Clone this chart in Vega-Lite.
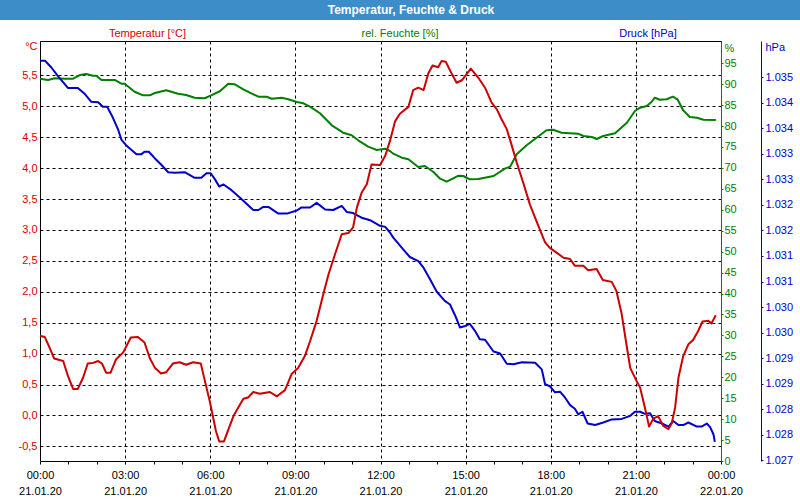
{
  "$schema": "https://vega.github.io/schema/vega-lite/v6.json",
  "background": "white",
  "padding": 0,
  "autosize": {"type": "pad"},
  "spacing": 6,
  "config": {
    "font": "Liberation Sans",
    "axis": {"labelFont": "Liberation Sans", "labelFontSize": 11, "titleFont": "Liberation Sans", "titleFontSize": 11, "titleFontWeight": "normal"}
  },
  "datasets": {
    "heading": [{"label": "Temperatur, Feuchte & Druck"}],
    "temp": [
      {"t": "2020-01-21T00:00", "v": 1.29}, {"t": "2020-01-21T00:10", "v": 1.27}, {"t": "2020-01-21T00:20", "v": 1.10},
      {"t": "2020-01-21T00:30", "v": 0.92}, {"t": "2020-01-21T00:49", "v": 0.88}, {"t": "2020-01-21T00:59", "v": 0.64},
      {"t": "2020-01-21T01:10", "v": 0.43}, {"t": "2020-01-21T01:20", "v": 0.43}, {"t": "2020-01-21T01:31", "v": 0.61},
      {"t": "2020-01-21T01:41", "v": 0.84}, {"t": "2020-01-21T01:52", "v": 0.85}, {"t": "2020-01-21T02:03", "v": 0.88},
      {"t": "2020-01-21T02:11", "v": 0.84}, {"t": "2020-01-21T02:20", "v": 0.69}, {"t": "2020-01-21T02:29", "v": 0.69},
      {"t": "2020-01-21T02:41", "v": 0.91}, {"t": "2020-01-21T02:56", "v": 1.02}, {"t": "2020-01-21T03:12", "v": 1.26},
      {"t": "2020-01-21T03:27", "v": 1.27}, {"t": "2020-01-21T03:41", "v": 1.18}, {"t": "2020-01-21T03:52", "v": 0.93},
      {"t": "2020-01-21T04:03", "v": 0.77}, {"t": "2020-01-21T04:16", "v": 0.68}, {"t": "2020-01-21T04:27", "v": 0.70},
      {"t": "2020-01-21T04:41", "v": 0.84}, {"t": "2020-01-21T04:55", "v": 0.86}, {"t": "2020-01-21T05:09", "v": 0.82},
      {"t": "2020-01-21T05:24", "v": 0.86}, {"t": "2020-01-21T05:40", "v": 0.84}, {"t": "2020-01-21T05:48", "v": 0.58},
      {"t": "2020-01-21T05:59", "v": 0.23}, {"t": "2020-01-21T06:12", "v": -0.25}, {"t": "2020-01-21T06:19", "v": -0.42},
      {"t": "2020-01-21T06:29", "v": -0.42}, {"t": "2020-01-21T06:49", "v": -0.01}, {"t": "2020-01-21T07:10", "v": 0.27},
      {"t": "2020-01-21T07:20", "v": 0.29}, {"t": "2020-01-21T07:31", "v": 0.38}, {"t": "2020-01-21T07:45", "v": 0.35},
      {"t": "2020-01-21T08:06", "v": 0.38}, {"t": "2020-01-21T08:21", "v": 0.31}, {"t": "2020-01-21T08:38", "v": 0.41},
      {"t": "2020-01-21T08:52", "v": 0.67}, {"t": "2020-01-21T09:06", "v": 0.77}, {"t": "2020-01-21T09:20", "v": 0.96},
      {"t": "2020-01-21T09:31", "v": 1.20}, {"t": "2020-01-21T09:45", "v": 1.53}, {"t": "2020-01-21T09:59", "v": 1.96},
      {"t": "2020-01-21T10:10", "v": 2.28}, {"t": "2020-01-21T10:24", "v": 2.61}, {"t": "2020-01-21T10:38", "v": 2.93},
      {"t": "2020-01-21T10:52", "v": 2.95}, {"t": "2020-01-21T11:02", "v": 3.04}, {"t": "2020-01-21T11:10", "v": 3.36},
      {"t": "2020-01-21T11:20", "v": 3.60}, {"t": "2020-01-21T11:31", "v": 3.74}, {"t": "2020-01-21T11:41", "v": 4.06},
      {"t": "2020-01-21T11:59", "v": 4.05}, {"t": "2020-01-21T12:10", "v": 4.20}, {"t": "2020-01-21T12:20", "v": 4.44},
      {"t": "2020-01-21T12:31", "v": 4.76}, {"t": "2020-01-21T12:41", "v": 4.88}, {"t": "2020-01-21T12:59", "v": 4.99},
      {"t": "2020-01-21T13:09", "v": 5.26}, {"t": "2020-01-21T13:20", "v": 5.30}, {"t": "2020-01-21T13:31", "v": 5.26},
      {"t": "2020-01-21T13:41", "v": 5.53}, {"t": "2020-01-21T13:50", "v": 5.66}, {"t": "2020-01-21T14:02", "v": 5.63},
      {"t": "2020-01-21T14:09", "v": 5.73}, {"t": "2020-01-21T14:18", "v": 5.72}, {"t": "2020-01-21T14:31", "v": 5.52},
      {"t": "2020-01-21T14:41", "v": 5.38}, {"t": "2020-01-21T14:52", "v": 5.42}, {"t": "2020-01-21T15:11", "v": 5.61},
      {"t": "2020-01-21T15:27", "v": 5.46}, {"t": "2020-01-21T15:41", "v": 5.30}, {"t": "2020-01-21T15:55", "v": 5.06},
      {"t": "2020-01-21T16:06", "v": 4.95}, {"t": "2020-01-21T16:16", "v": 4.79}, {"t": "2020-01-21T16:27", "v": 4.63},
      {"t": "2020-01-21T16:37", "v": 4.38}, {"t": "2020-01-21T16:48", "v": 4.09}, {"t": "2020-01-21T17:02", "v": 3.76},
      {"t": "2020-01-21T17:16", "v": 3.41}, {"t": "2020-01-21T17:30", "v": 3.14}, {"t": "2020-01-21T17:48", "v": 2.80},
      {"t": "2020-01-21T17:58", "v": 2.71}, {"t": "2020-01-21T18:13", "v": 2.63}, {"t": "2020-01-21T18:27", "v": 2.55},
      {"t": "2020-01-21T18:41", "v": 2.53}, {"t": "2020-01-21T18:51", "v": 2.42}, {"t": "2020-01-21T19:09", "v": 2.42},
      {"t": "2020-01-21T19:19", "v": 2.35}, {"t": "2020-01-21T19:37", "v": 2.37}, {"t": "2020-01-21T19:50", "v": 2.19},
      {"t": "2020-01-21T20:09", "v": 2.16}, {"t": "2020-01-21T20:19", "v": 2.01}, {"t": "2020-01-21T20:30", "v": 1.64},
      {"t": "2020-01-21T20:39", "v": 1.20}, {"t": "2020-01-21T20:48", "v": 0.77}, {"t": "2020-01-21T21:00", "v": 0.58},
      {"t": "2020-01-21T21:09", "v": 0.45}, {"t": "2020-01-21T21:19", "v": 0.13}, {"t": "2020-01-21T21:28", "v": -0.18},
      {"t": "2020-01-21T21:37", "v": -0.05}, {"t": "2020-01-21T21:47", "v": -0.01}, {"t": "2020-01-21T21:58", "v": -0.17},
      {"t": "2020-01-21T22:09", "v": -0.22}, {"t": "2020-01-21T22:16", "v": -0.12}, {"t": "2020-01-21T22:23", "v": 0.13},
      {"t": "2020-01-21T22:30", "v": 0.61}, {"t": "2020-01-21T22:40", "v": 0.96}, {"t": "2020-01-21T22:51", "v": 1.15},
      {"t": "2020-01-21T23:01", "v": 1.22}, {"t": "2020-01-21T23:12", "v": 1.37}, {"t": "2020-01-21T23:21", "v": 1.52},
      {"t": "2020-01-21T23:33", "v": 1.53}, {"t": "2020-01-21T23:40", "v": 1.49}, {"t": "2020-01-21T23:49", "v": 1.62}
    ],
    "hum": [
      {"t": "2020-01-21T00:00", "v": 91.30}, {"t": "2020-01-21T00:17", "v": 90.99}, {"t": "2020-01-21T00:31", "v": 91.39},
      {"t": "2020-01-21T00:52", "v": 91.30}, {"t": "2020-01-21T01:10", "v": 91.30}, {"t": "2020-01-21T01:24", "v": 92.18},
      {"t": "2020-01-21T01:38", "v": 92.42}, {"t": "2020-01-21T01:52", "v": 92.01}, {"t": "2020-01-21T01:59", "v": 92.01},
      {"t": "2020-01-21T02:10", "v": 90.99}, {"t": "2020-01-21T02:38", "v": 90.99}, {"t": "2020-01-21T02:52", "v": 90.10},
      {"t": "2020-01-21T02:59", "v": 90.10}, {"t": "2020-01-21T03:20", "v": 88.19}, {"t": "2020-01-21T03:38", "v": 87.33},
      {"t": "2020-01-21T03:52", "v": 87.33}, {"t": "2020-01-21T04:03", "v": 87.88}, {"t": "2020-01-21T04:27", "v": 88.53},
      {"t": "2020-01-21T04:52", "v": 87.72}, {"t": "2020-01-21T05:09", "v": 87.41}, {"t": "2020-01-21T05:27", "v": 86.76},
      {"t": "2020-01-21T05:48", "v": 86.62}, {"t": "2020-01-21T06:02", "v": 87.33}, {"t": "2020-01-21T06:21", "v": 88.36},
      {"t": "2020-01-21T06:38", "v": 90.10}, {"t": "2020-01-21T06:52", "v": 89.96}, {"t": "2020-01-21T07:10", "v": 88.77},
      {"t": "2020-01-21T07:28", "v": 87.72}, {"t": "2020-01-21T07:42", "v": 87.00}, {"t": "2020-01-21T07:59", "v": 87.00},
      {"t": "2020-01-21T08:10", "v": 86.52}, {"t": "2020-01-21T08:31", "v": 86.76}, {"t": "2020-01-21T08:45", "v": 86.38},
      {"t": "2020-01-21T09:03", "v": 85.73}, {"t": "2020-01-21T09:17", "v": 85.42}, {"t": "2020-01-21T09:31", "v": 84.61},
      {"t": "2020-01-21T09:52", "v": 83.04}, {"t": "2020-01-21T10:17", "v": 80.17}, {"t": "2020-01-21T10:41", "v": 78.40},
      {"t": "2020-01-21T10:59", "v": 77.78}, {"t": "2020-01-21T11:17", "v": 76.25}, {"t": "2020-01-21T11:34", "v": 75.06},
      {"t": "2020-01-21T11:52", "v": 74.27}, {"t": "2020-01-21T12:10", "v": 74.58}, {"t": "2020-01-21T12:20", "v": 74.03},
      {"t": "2020-01-21T12:27", "v": 73.39}, {"t": "2020-01-21T12:45", "v": 72.43}, {"t": "2020-01-21T12:59", "v": 72.05},
      {"t": "2020-01-21T13:20", "v": 70.21}, {"t": "2020-01-21T13:34", "v": 70.45}, {"t": "2020-01-21T13:52", "v": 69.02},
      {"t": "2020-01-21T14:06", "v": 67.42}, {"t": "2020-01-21T14:20", "v": 66.70}, {"t": "2020-01-21T14:45", "v": 68.13},
      {"t": "2020-01-21T14:55", "v": 68.06}, {"t": "2020-01-21T15:09", "v": 67.27}, {"t": "2020-01-21T15:27", "v": 67.35},
      {"t": "2020-01-21T15:59", "v": 68.06}, {"t": "2020-01-21T16:23", "v": 69.81}, {"t": "2020-01-21T16:34", "v": 70.28},
      {"t": "2020-01-21T16:48", "v": 73.24}, {"t": "2020-01-21T17:09", "v": 75.39}, {"t": "2020-01-21T17:30", "v": 77.21},
      {"t": "2020-01-21T17:51", "v": 78.98}, {"t": "2020-01-21T18:05", "v": 79.12}, {"t": "2020-01-21T18:23", "v": 78.40},
      {"t": "2020-01-21T18:58", "v": 78.16}, {"t": "2020-01-21T19:09", "v": 77.61}, {"t": "2020-01-21T19:27", "v": 77.38},
      {"t": "2020-01-21T19:37", "v": 76.90}, {"t": "2020-01-21T19:51", "v": 77.61}, {"t": "2020-01-21T20:16", "v": 78.26},
      {"t": "2020-01-21T20:41", "v": 80.79}, {"t": "2020-01-21T20:58", "v": 83.58}, {"t": "2020-01-21T21:09", "v": 84.37},
      {"t": "2020-01-21T21:23", "v": 84.78}, {"t": "2020-01-21T21:33", "v": 85.73}, {"t": "2020-01-21T21:40", "v": 86.76},
      {"t": "2020-01-21T21:51", "v": 86.28}, {"t": "2020-01-21T22:05", "v": 86.38}, {"t": "2020-01-21T22:18", "v": 87.00},
      {"t": "2020-01-21T22:28", "v": 86.38}, {"t": "2020-01-21T22:40", "v": 83.75}, {"t": "2020-01-21T22:54", "v": 82.15},
      {"t": "2020-01-21T23:09", "v": 81.99}, {"t": "2020-01-21T23:23", "v": 81.51}, {"t": "2020-01-21T23:49", "v": 81.43}
    ],
    "press": [
      {"t": "2020-01-21T00:00", "v": 1034.82}, {"t": "2020-01-21T00:11", "v": 1034.82}, {"t": "2020-01-21T00:24", "v": 1034.69},
      {"t": "2020-01-21T00:38", "v": 1034.52}, {"t": "2020-01-21T00:59", "v": 1034.29}, {"t": "2020-01-21T01:20", "v": 1034.29},
      {"t": "2020-01-21T01:35", "v": 1034.17}, {"t": "2020-01-21T01:48", "v": 1034.02}, {"t": "2020-01-21T02:03", "v": 1034.01},
      {"t": "2020-01-21T02:13", "v": 1033.92}, {"t": "2020-01-21T02:22", "v": 1033.92}, {"t": "2020-01-21T02:34", "v": 1033.71},
      {"t": "2020-01-21T02:45", "v": 1033.48}, {"t": "2020-01-21T02:52", "v": 1033.28}, {"t": "2020-01-21T03:02", "v": 1033.17},
      {"t": "2020-01-21T03:24", "v": 1032.99}, {"t": "2020-01-21T03:34", "v": 1032.99}, {"t": "2020-01-21T03:41", "v": 1033.04},
      {"t": "2020-01-21T03:50", "v": 1033.04}, {"t": "2020-01-21T04:03", "v": 1032.91}, {"t": "2020-01-21T04:16", "v": 1032.79},
      {"t": "2020-01-21T04:31", "v": 1032.64}, {"t": "2020-01-21T04:45", "v": 1032.63}, {"t": "2020-01-21T05:06", "v": 1032.64},
      {"t": "2020-01-21T05:27", "v": 1032.53}, {"t": "2020-01-21T05:41", "v": 1032.53}, {"t": "2020-01-21T05:52", "v": 1032.62},
      {"t": "2020-01-21T06:01", "v": 1032.62}, {"t": "2020-01-21T06:10", "v": 1032.50}, {"t": "2020-01-21T06:19", "v": 1032.36},
      {"t": "2020-01-21T06:28", "v": 1032.40}, {"t": "2020-01-21T06:42", "v": 1032.31}, {"t": "2020-01-21T07:03", "v": 1032.14},
      {"t": "2020-01-21T07:31", "v": 1031.90}, {"t": "2020-01-21T07:42", "v": 1031.90}, {"t": "2020-01-21T07:52", "v": 1031.96},
      {"t": "2020-01-21T08:03", "v": 1031.96}, {"t": "2020-01-21T08:24", "v": 1031.83}, {"t": "2020-01-21T08:42", "v": 1031.83},
      {"t": "2020-01-21T09:03", "v": 1031.89}, {"t": "2020-01-21T09:13", "v": 1031.95}, {"t": "2020-01-21T09:31", "v": 1031.95},
      {"t": "2020-01-21T09:45", "v": 1032.04}, {"t": "2020-01-21T10:03", "v": 1031.91}, {"t": "2020-01-21T10:20", "v": 1031.90},
      {"t": "2020-01-21T10:38", "v": 1031.98}, {"t": "2020-01-21T10:49", "v": 1031.86}, {"t": "2020-01-21T11:02", "v": 1031.84},
      {"t": "2020-01-21T11:20", "v": 1031.75}, {"t": "2020-01-21T11:38", "v": 1031.70}, {"t": "2020-01-21T11:59", "v": 1031.59},
      {"t": "2020-01-21T12:10", "v": 1031.57}, {"t": "2020-01-21T12:20", "v": 1031.46}, {"t": "2020-01-21T12:27", "v": 1031.36},
      {"t": "2020-01-21T12:48", "v": 1031.13}, {"t": "2020-01-21T13:02", "v": 1030.98}, {"t": "2020-01-21T13:20", "v": 1030.90},
      {"t": "2020-01-21T13:31", "v": 1030.77}, {"t": "2020-01-21T13:45", "v": 1030.54}, {"t": "2020-01-21T13:59", "v": 1030.30},
      {"t": "2020-01-21T14:16", "v": 1030.12}, {"t": "2020-01-21T14:27", "v": 1030.05}, {"t": "2020-01-21T14:38", "v": 1029.83},
      {"t": "2020-01-21T14:48", "v": 1029.60}, {"t": "2020-01-21T14:59", "v": 1029.63}, {"t": "2020-01-21T15:09", "v": 1029.67},
      {"t": "2020-01-21T15:20", "v": 1029.53}, {"t": "2020-01-21T15:30", "v": 1029.37}, {"t": "2020-01-21T15:41", "v": 1029.36},
      {"t": "2020-01-21T15:59", "v": 1029.13}, {"t": "2020-01-21T16:13", "v": 1029.09}, {"t": "2020-01-21T16:27", "v": 1028.89},
      {"t": "2020-01-21T16:41", "v": 1028.88}, {"t": "2020-01-21T16:59", "v": 1028.92}, {"t": "2020-01-21T17:27", "v": 1028.91},
      {"t": "2020-01-21T17:41", "v": 1028.78}, {"t": "2020-01-21T17:48", "v": 1028.49}, {"t": "2020-01-21T17:58", "v": 1028.45},
      {"t": "2020-01-21T18:09", "v": 1028.33}, {"t": "2020-01-21T18:20", "v": 1028.34}, {"t": "2020-01-21T18:30", "v": 1028.23},
      {"t": "2020-01-21T18:41", "v": 1028.08}, {"t": "2020-01-21T18:51", "v": 1028.01}, {"t": "2020-01-21T18:58", "v": 1027.90},
      {"t": "2020-01-21T19:07", "v": 1027.95}, {"t": "2020-01-21T19:18", "v": 1027.72}, {"t": "2020-01-21T19:34", "v": 1027.69},
      {"t": "2020-01-21T19:51", "v": 1027.74}, {"t": "2020-01-21T20:09", "v": 1027.80}, {"t": "2020-01-21T20:30", "v": 1027.81},
      {"t": "2020-01-21T20:48", "v": 1027.87}, {"t": "2020-01-21T20:58", "v": 1027.95}, {"t": "2020-01-21T21:09", "v": 1027.95},
      {"t": "2020-01-21T21:19", "v": 1027.91}, {"t": "2020-01-21T21:30", "v": 1027.92}, {"t": "2020-01-21T21:40", "v": 1027.77},
      {"t": "2020-01-21T21:55", "v": 1027.72}, {"t": "2020-01-21T22:09", "v": 1027.66}, {"t": "2020-01-21T22:19", "v": 1027.77},
      {"t": "2020-01-21T22:30", "v": 1027.69}, {"t": "2020-01-21T22:40", "v": 1027.69}, {"t": "2020-01-21T22:51", "v": 1027.74},
      {"t": "2020-01-21T23:09", "v": 1027.66}, {"t": "2020-01-21T23:19", "v": 1027.66}, {"t": "2020-01-21T23:30", "v": 1027.72},
      {"t": "2020-01-21T23:37", "v": 1027.65}, {"t": "2020-01-21T23:44", "v": 1027.51}, {"t": "2020-01-21T23:47", "v": 1027.36}
    ]
  },
  "vconcat": [
    {
      "width": 800,
      "height": 20,
      "view": {"fill": "#3d8ec8", "stroke": null},
      "data": {"name": "heading"},
      "mark": {"type": "text", "color": "white", "font": "Liberation Sans", "fontSize": 12, "fontWeight": "bold", "baseline": "middle", "dx": 11},
      "encoding": {"text": {"field": "label"}}
    },
    {
      "spacing": 0,
      "hconcat": [
        {
          "width": 17,
          "height": 1,
          "view": {"stroke": null},
          "data": {"name": "heading"},
          "mark": {"type": "text", "opacity": 0},
          "encoding": {"text": {"value": ""}}
        },
        {
          "width": 681,
          "height": 420,
          "view": {"stroke": "black", "strokeWidth": 1},
          "encoding": {
            "x": {
              "field": "t",
              "type": "temporal",
              "scale": {"domain": [{"year": 2020, "month": 1, "date": 21}, {"year": 2020, "month": 1, "date": 22}], "nice": false},
              "axis": {
                "title": null,
                "values": [
                  {"year": 2020, "month": 1, "date": 21, "hours": 0}, {"year": 2020, "month": 1, "date": 21, "hours": 1}, {"year": 2020, "month": 1, "date": 21, "hours": 2},
                  {"year": 2020, "month": 1, "date": 21, "hours": 3}, {"year": 2020, "month": 1, "date": 21, "hours": 4}, {"year": 2020, "month": 1, "date": 21, "hours": 5},
                  {"year": 2020, "month": 1, "date": 21, "hours": 6}, {"year": 2020, "month": 1, "date": 21, "hours": 7}, {"year": 2020, "month": 1, "date": 21, "hours": 8},
                  {"year": 2020, "month": 1, "date": 21, "hours": 9}, {"year": 2020, "month": 1, "date": 21, "hours": 10}, {"year": 2020, "month": 1, "date": 21, "hours": 11},
                  {"year": 2020, "month": 1, "date": 21, "hours": 12}, {"year": 2020, "month": 1, "date": 21, "hours": 13}, {"year": 2020, "month": 1, "date": 21, "hours": 14},
                  {"year": 2020, "month": 1, "date": 21, "hours": 15}, {"year": 2020, "month": 1, "date": 21, "hours": 16}, {"year": 2020, "month": 1, "date": 21, "hours": 17},
                  {"year": 2020, "month": 1, "date": 21, "hours": 18}, {"year": 2020, "month": 1, "date": 21, "hours": 19}, {"year": 2020, "month": 1, "date": 21, "hours": 20},
                  {"year": 2020, "month": 1, "date": 21, "hours": 21}, {"year": 2020, "month": 1, "date": 21, "hours": 22}, {"year": 2020, "month": 1, "date": 21, "hours": 23},
                  {"year": 2020, "month": 1, "date": 22, "hours": 0}
                ],
                "domain": false,
                "ticks": true,
                "tickSize": 3,
                "tickColor": "black",
                "grid": true,
                "gridColor": "black",
                "gridDash": [3, 3],
                "gridOpacity": {"condition": {"test": "hours(datum.value) % 3 === 0", "value": 1}, "value": 0},
                "labelExpr": "hours(datum.value) % 3 === 0 ? [timeFormat(datum.value, '%H:%M'), timeFormat(datum.value, '%d.%m.%y')] : ''",
                "labelOverlap": false,
                "labelFlush": false,
                "labelColor": "black",
                "labelPadding": 5,
                "labelLineHeight": 16,
                "labelBaseline": "top"
              }
            }
          },
          "layer": [
            {
              "data": {"name": "hum"},
              "mark": {"type": "line", "color": "#008000", "strokeWidth": 2, "strokeJoin": "round"},
              "encoding": {
                "y": {
                  "field": "v",
                  "type": "quantitative",
                  "scale": {"domain": [0, 100.3], "nice": false, "zero": false},
                  "axis": {
                    "orient": "right",
                    "values": [0, 5, 10, 15, 20, 25, 30, 35, 40, 45, 50, 55, 60, 65, 70, 75, 80, 85, 90, 95, 98.6],
                    "title": "rel. Feuchte [%]",
                    "titleAngle": 0,
                    "titleX": -321.5,
                    "titleY": -8,
                    "titleAlign": "center",
                    "titleBaseline": "middle",
                    "titleColor": "#008000",
                    "domain": true,
                    "domainColor": "#008000",
                    "ticks": true,
                    "tickSize": 2,
                    "tickColor": "#008000",
                    "tickOpacity": {"condition": {"test": "datum.value > 97", "value": 0}, "value": 1},
                    "labelPadding": 1,
                    "labelColor": "#008000",
                    "labelExpr": "datum.value > 97 ? '%' : datum.label",
                    "labelOverlap": false,
                    "labelFlush": false,
                    "grid": false
                  }
                }
              }
            },
            {
              "data": {"name": "press"},
              "mark": {"type": "line", "color": "#0000cc", "strokeWidth": 2, "strokeJoin": "round"},
              "encoding": {
                "y": {
                  "field": "v",
                  "type": "quantitative",
                  "scale": {"domain": [1026.986, 1035.209], "nice": false, "zero": false},
                  "axis": {
                    "orient": "right",
                    "offset": 40,
                    "values": [1027, 1027.5, 1028, 1028.5, 1029, 1029.5, 1030, 1030.5, 1031, 1031.5, 1032, 1032.5, 1033, 1033.5, 1034, 1034.5, 1035.09],
                    "title": "Druck [hPa]",
                    "titleAngle": 0,
                    "titleX": -113.5,
                    "titleY": -8,
                    "titleAlign": "center",
                    "titleBaseline": "middle",
                    "titleColor": "#0000cc",
                    "domain": true,
                    "domainColor": "#0000cc",
                    "ticks": true,
                    "tickSize": 2,
                    "tickColor": "#0000cc",
                    "tickOpacity": {"condition": {"test": "datum.value > 1035", "value": 0}, "value": 1},
                    "labelPadding": 2,
                    "labelColor": "#0000cc",
                    "labelExpr": "datum.value > 1035 ? 'hPa' : replace(format(datum.value, ',.0f'), ',', '.')",
                    "labelOverlap": false,
                    "labelFlush": false,
                    "grid": false
                  }
                }
              }
            },
            {
              "data": {"name": "temp"},
              "mark": {"type": "line", "color": "#cc0000", "strokeWidth": 2, "strokeJoin": "round"},
              "encoding": {
                "y": {
                  "field": "v",
                  "type": "quantitative",
                  "scale": {"domain": [-0.736, 6.055], "nice": false, "zero": false},
                  "axis": {
                    "orient": "left",
                    "values": [-0.5, 0, 0.5, 1, 1.5, 2, 2.5, 3, 3.5, 4, 4.5, 5, 5.5, 5.958],
                    "title": "Temperatur [°C]",
                    "titleAngle": 0,
                    "titleX": 107,
                    "titleY": -8,
                    "titleAlign": "center",
                    "titleBaseline": "middle",
                    "titleColor": "#d40000",
                    "domain": false,
                    "ticks": false,
                    "tickSize": 0,
                    "labelPadding": 3,
                    "labelColor": "#d40000",
                    "labelExpr": "datum.value > 5.9 ? '°C' : (datum.value < 0 ? '-' : '') + replace(format(abs(datum.value), '.1f'), '.', ',')",
                    "labelOverlap": false,
                    "labelFlush": false,
                    "grid": true,
                    "gridColor": "black",
                    "gridDash": [3, 3],
                    "gridOpacity": {"condition": {"test": "datum.value > 5.9", "value": 0}, "value": 1}
                  }
                }
              }
            }
          ],
          "resolve": {"scale": {"y": "independent"}, "axis": {"y": "independent"}}
        }
      ]
    }
  ]
}
